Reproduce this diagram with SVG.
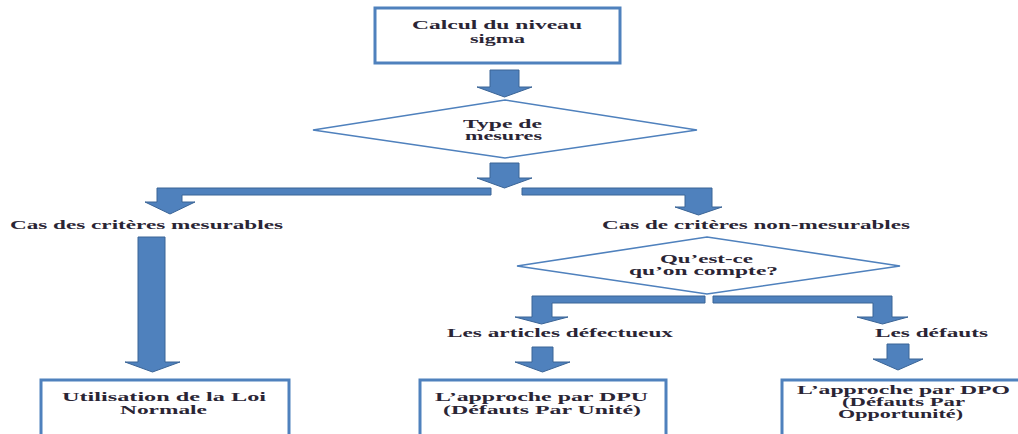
<svg xmlns="http://www.w3.org/2000/svg" width="1018" height="434" viewBox="0 0 1018 434">
  <style>
    .box { fill: #ffffff; stroke: #4f81bd; stroke-width: 3; }
    .dia { fill: #ffffff; stroke: #4f81bd; stroke-width: 1.6; }
    .arr { fill: #4f81bd; stroke: #3a6496; stroke-width: 1; stroke-linejoin: miter; }
    .t { font-family: "Liberation Serif", "Times New Roman", serif; font-size: 12px; font-weight: bold; fill: #2a2535; }
  </style>
  <rect width="1018" height="434" fill="#ffffff"/>

  <!-- connectors: block arrows -->
  <g id="connectors">
    <!-- top box to first decision -->
    <path class="arr" d="M490,70 L519,70 L519,87 L532,87 L504.5,97 L477,87 L490,87 Z"/>
    <!-- first decision down -->
    <path class="arr" d="M490,163 L519,163 L519,178 L532,178 L504.5,188 L477,178 L490,178 Z"/>
    <!-- branch left: measurable criteria -->
    <path class="arr" d="M491,188 L157,188 L157,202 L145,202 L170,214 L195,202 L182,202 L182,195 L491,195 Z"/>
    <!-- branch right: non-measurable criteria -->
    <path class="arr" d="M522,188 L712,188 L712,207 L722,207 L698.5,215 L675,207 L685,207 L685,195 L522,195 Z"/>
    <!-- long arrow to normal law -->
    <path class="arr" d="M138,237 L165,237 L165,362 L180,362 L152.5,372 L125,362 L138,362 Z"/>
    <!-- second decision left: defective items -->
    <path class="arr" d="M705,296 L532,296 L532,317 L515,317 L541.5,324 L568,317 L552,317 L552,303 L705,303 Z"/>
    <!-- second decision right: defects -->
    <path class="arr" d="M713,296 L892,296 L892,317 L908,317 L882.5,324 L857,317 L873,317 L873,303 L713,303 Z"/>
    <!-- to DPU -->
    <path class="arr" d="M532,347 L553,347 L553,362 L570,362 L542.5,372 L515,362 L532,362 Z"/>
    <!-- to DPO -->
    <path class="arr" d="M887,344 L909,344 L909,359 L923,359 L898,370 L873,359 L887,359 Z"/>
  </g>

  <g id="node-calcul">
    <rect class="box" x="375" y="8" width="245" height="55"/>
    <text class="t" x="412" y="29" textLength="170" lengthAdjust="spacingAndGlyphs">Calcul du niveau</text>
    <text class="t" x="470" y="43" textLength="55" lengthAdjust="spacingAndGlyphs">sigma</text>
  </g>

  <g id="node-type">
    <polygon class="dia" points="505,100 697,130 505,158 313,130"/>
    <text class="t" x="463" y="128" textLength="79" lengthAdjust="spacingAndGlyphs">Type de</text>
    <text class="t" x="465" y="140" textLength="77" lengthAdjust="spacingAndGlyphs">mesures</text>
  </g>

  <g id="node-mesurables">
    <text class="t" x="10" y="229" textLength="273" lengthAdjust="spacingAndGlyphs">Cas des critères mesurables</text>
  </g>

  <g id="node-non-mesurables">
    <text class="t" x="602" y="229" textLength="308" lengthAdjust="spacingAndGlyphs">Cas de critères non-mesurables</text>
  </g>

  <g id="node-compte">
    <polygon class="dia" points="707,237 900,266 707,294 517,266"/>
    <text class="t" x="660" y="263" textLength="93" lengthAdjust="spacingAndGlyphs">Qu’est-ce</text>
    <text class="t" x="629" y="275" textLength="149" lengthAdjust="spacingAndGlyphs">qu’on compte?</text>
  </g>

  <g id="node-articles">
    <text class="t" x="447" y="337" textLength="226" lengthAdjust="spacingAndGlyphs">Les articles défectueux</text>
  </g>

  <g id="node-defauts">
    <text class="t" x="875" y="337" textLength="113" lengthAdjust="spacingAndGlyphs">Les défauts</text>
  </g>

  <g id="node-loi-normale">
    <rect class="box" x="41" y="380" width="248" height="70"/>
    <text class="t" x="62" y="401" textLength="204" lengthAdjust="spacingAndGlyphs">Utilisation de la Loi</text>
    <text class="t" x="120" y="414" textLength="87" lengthAdjust="spacingAndGlyphs">Normale</text>
  </g>

  <g id="node-dpu">
    <rect class="box" x="420" y="380" width="246" height="70"/>
    <text class="t" x="435" y="401" textLength="213" lengthAdjust="spacingAndGlyphs">L’approche  par DPU</text>
    <text class="t" x="443" y="414" textLength="198" lengthAdjust="spacingAndGlyphs">(Défauts  Par Unité)</text>
  </g>

  <g id="node-dpo">
    <rect class="box" x="782" y="380" width="260" height="70"/>
    <text class="t" x="797" y="394" textLength="213" lengthAdjust="spacingAndGlyphs">L’approche  par DPO</text>
    <text class="t" x="842" y="406" textLength="123" lengthAdjust="spacingAndGlyphs">(Défauts  Par</text>
    <text class="t" x="838" y="418" textLength="125" lengthAdjust="spacingAndGlyphs">Opportunité)</text>
  </g>
</svg>
